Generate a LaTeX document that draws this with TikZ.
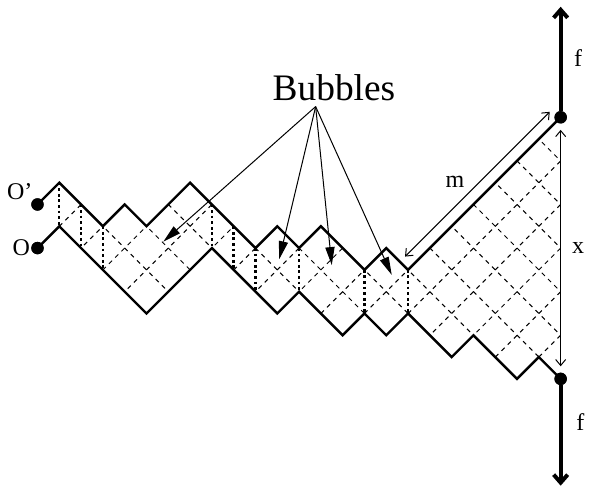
\documentclass[tikz,border=0pt]{standalone}
\usepackage{fontspec}
\setmainfont{Liberation Serif}
\usepackage{tikz}
\usetikzlibrary{arrows.meta, positioning}

\begin{document}
\begin{tikzpicture}
  [
    x=10.9pt, y=10.9pt,
    Dot/.style={circle, fill=black, inner sep=0pt, minimum size=6.2pt},
    Walk/.style={draw=black, line width=1.2pt, line join=miter},
    Lattice/.style={draw=black, line width=0.5pt, dash pattern=on 2.2pt off 2.2pt},
    Rung/.style={draw=black, line width=1.2pt, dash pattern=on 1.4pt off 1.4pt},
    Force/.style={draw=black, line width=2pt, -{Straight Barb[length=4pt, width=7pt]}},
    Measure/.style={draw=black, line width=0.5pt, {Straight Barb[length=3pt, width=5pt]}-{Straight Barb[length=3pt, width=5pt]}},
    Pointer/.style={draw=black, line width=0.5pt, -{Triangle[length=9pt, width=4.6pt]}},
    Label/.style={inner sep=0pt, font=\fontsize{12}{14}\selectfont}
  ]
  \useasboundingbox (-2.72,-13.96) rectangle (24.30,8.38);

  % Dashed lattice between the two walks
  \begin{scope}
    \clip (0,0) -- (2,-2) -- (3,-1) -- (4,-2) -- (6,0) -- (9,-3) -- (10,-2) -- (11,-3) -- (12,-2)
      -- (14,-4) -- (15,-3) -- (16,-4) -- (23,3) -- (23,-9) -- (22,-8) -- (21,-9) -- (19,-7)
      -- (18,-8) -- (16,-6) -- (15,-7) -- (14,-6) -- (13,-7) -- (11,-5) -- (10,-6) -- (7,-3)
      -- (4,-6) -- (0,-2) -- cycle;
    \foreach \c in {-10,-8,...,36} {
      \path[Lattice] (\c-5,5) -- (\c+10,-10);
      \path[Lattice] (\c-10,-10) -- (\c+5,5);
    }
  \end{scope}

  % Nodes (x, y)
  \node[Dot] (oprime) at (-1,-1) {};
  \node[Dot] (o) at (-1,-3) {};
  \node[Dot] (ftop) at (23,3) {};
  \node[Dot] (fbot) at (23,-9) {};
  \node[Label, above left=0pt of oprime] {O'};
  \node[Label, left=0.3pt of o] {O};
  \node[inner sep=0pt, font=\fontsize{18.7}{20}\selectfont] (bubbles) at (12.6,4.34) {Bubbles};
  \node[Label] (flabeltop) at (23.8,5.72) {f};
  \node[Label] (flabelbot) at (23.9,-10.98) {f};
  \node[Label] (mlabel) at (18.15,0.02) {m};

  \coordinate (ftip) at (23,8.07);
  \coordinate (btip) at (23,-13.9);
  \coordinate (mlow) at (15.86,-3.39);
  \coordinate (mhigh) at (22.5,3.25);
  \coordinate (bsrc) at (11.76,3.49);

  % Walks
  % upper walk from O'
  \path[Walk] (oprime.center) -- (0,0) -- (2,-2) -- (3,-1) -- (4,-2) -- (6,0) -- (9,-3) -- (10,-2)
    -- (11,-3) -- (12,-2) -- (14,-4) -- (15,-3) -- (16,-4) -- (ftop.center);
  % lower walk from O
  \path[Walk] (o.center) -- (0,-2) -- (4,-6) -- (7,-3) -- (10,-6) -- (11,-5) -- (13,-7) -- (14,-6)
    -- (15,-7) -- (16,-6) -- (18,-8) -- (19,-7) -- (21,-9) -- (22,-8) -- (fbot.center);

  % rungs where the walks are two apart
  \foreach \x/\hi/\lo in {0/0/-2, 1/-1/-3, 2/-2/-4, 7/-1/-3, 8/-2/-4, 9/-3/-5, 11/-3/-5, 14/-4/-6, 16/-4/-6}
    \path[Rung] (\x,\hi) -- (\x,\lo);

  % dots on top
  \node[Dot] at (oprime) {};
  \node[Dot] at (o) {};
  \node[Dot] at (ftop) {};
  \node[Dot] at (fbot) {};

  % Forces
  \path[Force] (ftop) -- (ftip);
  \path[Force] (fbot) -- (btip);

  % Lengths
  \path[Measure] (mlow) -- (mhigh);
  \path[Measure, shorten <=3pt, shorten >=3pt] (ftop) -- (fbot) node[Label, midway, right=5.5pt] {x};

  % Bubbles
  \path[Pointer] (bsrc) -- (4.77,-2.71);
  \path[Pointer] (bsrc) -- (10.09,-3.51);
  \path[Pointer] (bsrc) -- (12.50,-3.78);
  \path[Pointer] (bsrc) -- (15.25,-4.23);
\end{tikzpicture}
\end{document}
